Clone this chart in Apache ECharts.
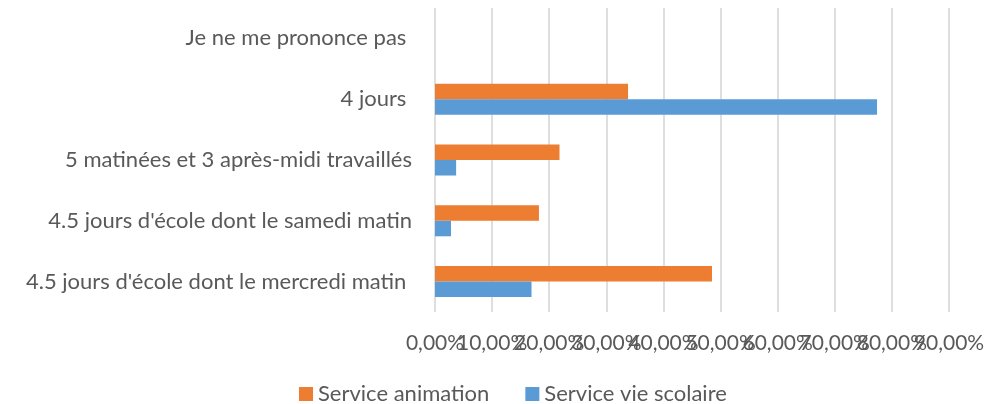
<!DOCTYPE html>
<html>
<head>
<meta charset="utf-8">
<script src="https://cdn.jsdelivr.net/npm/echarts@6/dist/echarts.min.js"></script>
<style>
  html, body { margin: 0; padding: 0; background: #fff; }
  #chart { width: 1008px; height: 404px; }
</style>
</head>
<body>
<div id="chart"></div>
<script>
// catégories, du bas vers le haut
var categories = [
  "4.5 jours d'école dont le mercredi matin ",
  "4.5 jours d'école dont le samedi matin",
  '5 matinées et 3 après-midi travaillés',
  '4 jours ',
  'Je ne me prononce pas '
]
// valeurs en %
var animation = [48.5, 18.2, 21.8, 33.8, 0]
var vieScolaire = [16.9, 2.8, 3.7, 77.4, 0]
var seriesNames = ['Service animation', 'Service vie scolaire']

var textColor = '#595959'
var font = 'Lato'

function pct (v) {
  return v.toFixed(2).replace('.', ',') + '%'
}

// les étiquettes se chevauchent : on les répartit sur deux axes (pairs / impairs)
function valueAxis (even) {
  return {
    type: 'value',
    position: 'bottom',
    min: 0,
    max: 90,
    interval: 10,
    axisLine: { show: false },
    axisTick: { show: false },
    splitLine: { show: even, lineStyle: { color: '#dedede', width: 2 } },
    axisLabel: {
      color: textColor,
      fontSize: 21,
      fontFamily: font,
      margin: 21,
      formatter: function (v) {
        var isEven = Math.round(v / 10) % 2 === 0
        return isEven === even ? pct(v) : ''
      }
    }
  }
}

var myChart = echarts.init(document.getElementById('chart'))
myChart.setOption({
  animation: false,
  grid: { left: 435, right: 59, top: 8, bottom: 92, containLabel: false },
  legend: {
    data: seriesNames,
    top: 378,
    left: 294,
    itemWidth: 14,
    itemHeight: 14,
    itemGap: 36,
    icon: 'rect',
    textStyle: { color: textColor, fontSize: 22, lineHeight: 22, fontFamily: font }
  },
  xAxis: [valueAxis(true), valueAxis(false)],
  yAxis: {
    type: 'category',
    data: categories,
    axisLine: { show: false },
    axisTick: { show: false },
    axisLabel: { color: textColor, fontSize: 22, fontFamily: font, margin: 23 }
  },
  series: [
    {
      name: seriesNames[0],
      type: 'bar',
      data: animation,
      itemStyle: { color: '#ed7d31' },
      barGap: '0%',
      barCategoryGap: '49%'
    },
    {
      name: seriesNames[1],
      type: 'bar',
      data: vieScolaire,
      itemStyle: { color: '#5b9bd5' },
      barGap: '0%',
      barCategoryGap: '49%'
    }
  ]
})
</script>
</body>
</html>
